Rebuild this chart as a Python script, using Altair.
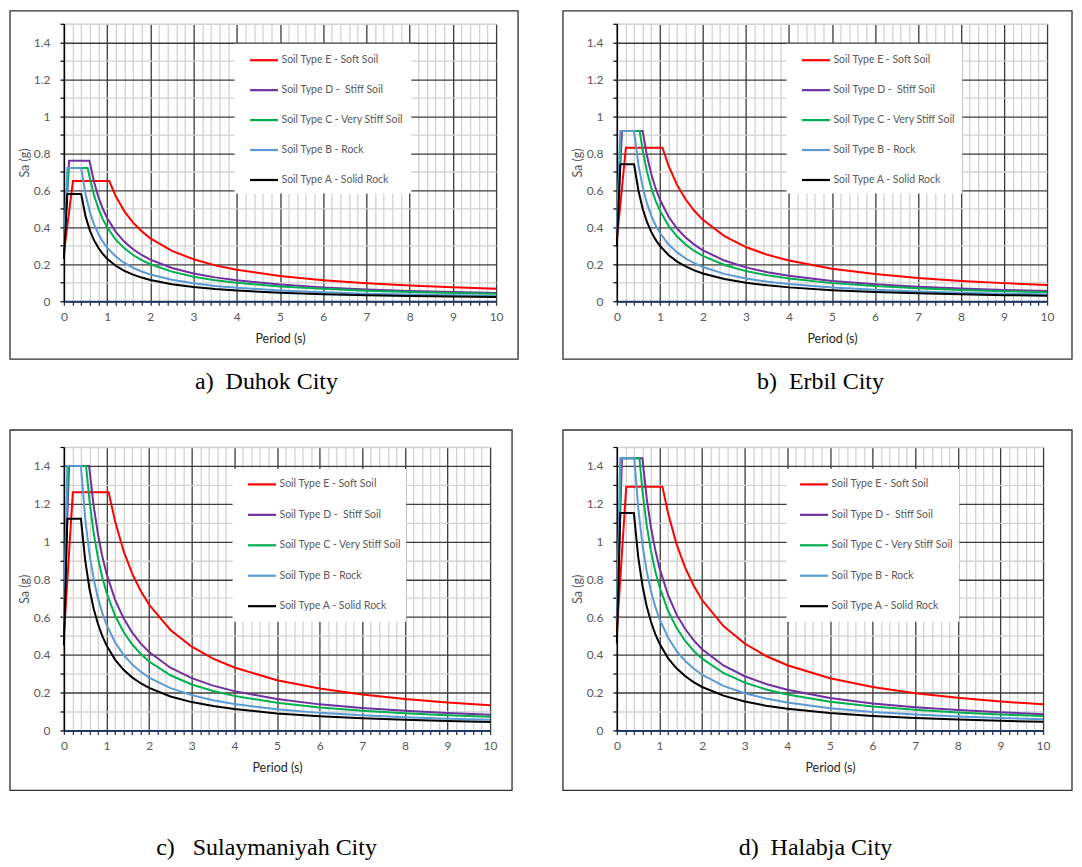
import altair as alt
import pandas as pd

SERIES = [
    "Soil Type E - Soft Soil",
    "Soil Type D -\u00a0 Stiff Soil",
    "Soil Type C - Very Stiff Soil",
    "Soil Type B - Rock",
    "Soil Type A - Solid Rock",
]
COLORS = ["#FF0000", "#7030A0", "#00B050", "#5B9BD5", "#000000"]
CITIES = ["Duhok", "Erbil", "Sulaymaniyah", "Halabja"]
CAPTIONS = [
    "a)\u00a0\u00a0Duhok City",
    "b)\u00a0\u00a0Erbil City",
    "c)\u00a0\u00a0\u00a0Sulaymaniyah City",
    "d)\u00a0\u00a0Halabja City",
]

# periods (s) of the descending branch, shared by all curves
TAIL_T = [0.5, 0.6, 0.7, 0.8, 0.9, 1.0, 1.2, 1.4, 1.6, 1.8, 2.0,
          2.5, 3.0, 3.5, 4.0, 5.0, 6.0, 7.0, 8.0, 9.0, 10.0]

# corner points (T = 0, T0, Ts) of each curve, order E, D, C, B, A
DUHOK_KNEE_T = [[0, 0.21, 1.05], [0, 0.12, 0.59], [0, 0.11, 0.55], [0, 0.08, 0.40], [0, 0.08, 0.40]]
DUHOK_KNEE_SA = [[0.26, 0.65, 0.65], [0.30, 0.76, 0.76], [0.29, 0.72, 0.72], [0.29, 0.72, 0.72], [0.23, 0.58, 0.58]]
DUHOK_TAIL = [
    [None, None, None, None, None, None, 0.567, 0.486, 0.425, 0.378, 0.340, 0.272, 0.227, 0.194, 0.170, 0.136, 0.113, 0.097, 0.085, 0.076, 0.068],
    [None, 0.750, 0.643, 0.563, 0.500, 0.450, 0.375, 0.321, 0.281, 0.250, 0.225, 0.180, 0.150, 0.129, 0.113, 0.090, 0.075, 0.064, 0.056, 0.050, 0.045],
    [None, 0.667, 0.571, 0.500, 0.444, 0.400, 0.333, 0.286, 0.250, 0.222, 0.200, 0.160, 0.133, 0.114, 0.100, 0.080, 0.067, 0.057, 0.050, 0.044, 0.040],
    [0.580, 0.483, 0.414, 0.363, 0.322, 0.290, 0.242, 0.207, 0.181, 0.161, 0.145, 0.116, 0.097, 0.083, 0.073, 0.058, 0.048, 0.041, 0.036, 0.032, 0.029],
    [0.460, 0.383, 0.329, 0.288, 0.256, 0.230, 0.192, 0.164, 0.144, 0.128, 0.115, 0.092, 0.077, 0.066, 0.058, 0.046, 0.038, 0.033, 0.029, 0.026, 0.023],
]

ERBIL_KNEE_T = [[0, 0.21, 1.06], [0, 0.12, 0.60], [0, 0.10, 0.53], [0, 0.08, 0.40], [0, 0.08, 0.40]]
ERBIL_KNEE_SA = [[0.33, 0.83, 0.83], [0.37, 0.92, 0.92], [0.37, 0.92, 0.92], [0.37, 0.92, 0.92], [0.30, 0.74, 0.74]]
ERBIL_TAIL = [
    [None, None, None, None, None, None, 0.733, 0.629, 0.550, 0.489, 0.440, 0.352, 0.293, 0.251, 0.220, 0.176, 0.147, 0.126, 0.110, 0.098, 0.088],
    [None, None, 0.786, 0.688, 0.611, 0.550, 0.458, 0.393, 0.344, 0.306, 0.275, 0.220, 0.183, 0.157, 0.138, 0.110, 0.092, 0.079, 0.069, 0.061, 0.055],
    [None, 0.817, 0.700, 0.613, 0.544, 0.490, 0.408, 0.350, 0.306, 0.272, 0.245, 0.196, 0.163, 0.140, 0.123, 0.098, 0.082, 0.070, 0.061, 0.054, 0.049],
    [0.740, 0.617, 0.529, 0.463, 0.411, 0.370, 0.308, 0.264, 0.231, 0.206, 0.185, 0.148, 0.123, 0.106, 0.093, 0.074, 0.062, 0.053, 0.046, 0.041, 0.037],
    [0.600, 0.500, 0.429, 0.375, 0.333, 0.300, 0.250, 0.214, 0.188, 0.167, 0.150, 0.120, 0.100, 0.086, 0.075, 0.060, 0.050, 0.043, 0.038, 0.033, 0.030],
]

SULAY_KNEE_T = [[0, 0.21, 1.05], [0, 0.12, 0.59], [0, 0.10, 0.52], [0, 0.08, 0.40], [0, 0.08, 0.40]]
SULAY_KNEE_SA = [[0.50, 1.26, 1.26], [0.56, 1.40, 1.40], [0.56, 1.40, 1.40], [0.56, 1.40, 1.40], [0.45, 1.12, 1.12]]
SULAY_TAIL = [
    [None, None, None, None, None, None, 1.108, 0.950, 0.831, 0.739, 0.665, 0.532, 0.443, 0.380, 0.333, 0.266, 0.222, 0.190, 0.166, 0.148, 0.133],
    [None, 1.383, 1.186, 1.038, 0.922, 0.830, 0.692, 0.593, 0.519, 0.461, 0.415, 0.332, 0.277, 0.237, 0.208, 0.166, 0.138, 0.119, 0.104, 0.092, 0.083],
    [None, 1.217, 1.043, 0.913, 0.811, 0.730, 0.608, 0.521, 0.456, 0.406, 0.365, 0.292, 0.243, 0.209, 0.183, 0.146, 0.122, 0.104, 0.091, 0.081, 0.073],
    [1.120, 0.933, 0.800, 0.700, 0.622, 0.560, 0.467, 0.400, 0.350, 0.311, 0.280, 0.224, 0.187, 0.160, 0.140, 0.112, 0.093, 0.080, 0.070, 0.062, 0.056],
    [0.900, 0.750, 0.643, 0.563, 0.500, 0.450, 0.375, 0.321, 0.281, 0.250, 0.225, 0.180, 0.150, 0.129, 0.113, 0.090, 0.075, 0.064, 0.056, 0.050, 0.045],
]

HALAB_KNEE_T = [[0, 0.22, 1.07], [0, 0.12, 0.60], [0, 0.10, 0.53], [0, 0.08, 0.41], [0, 0.08, 0.40]]
HALAB_KNEE_SA = [[0.52, 1.29, 1.29], [0.58, 1.44, 1.44], [0.58, 1.44, 1.44], [0.58, 1.44, 1.44], [0.46, 1.15, 1.15]]
HALAB_TAIL = [
    [None, None, None, None, None, None, 1.150, 0.986, 0.863, 0.767, 0.690, 0.552, 0.460, 0.394, 0.345, 0.276, 0.230, 0.197, 0.173, 0.153, 0.138],
    [None, None, 1.229, 1.075, 0.956, 0.860, 0.717, 0.614, 0.538, 0.478, 0.430, 0.344, 0.287, 0.246, 0.215, 0.172, 0.143, 0.123, 0.108, 0.096, 0.086],
    [None, 1.267, 1.086, 0.950, 0.844, 0.760, 0.633, 0.543, 0.475, 0.422, 0.380, 0.304, 0.253, 0.217, 0.190, 0.152, 0.127, 0.109, 0.095, 0.084, 0.076],
    [1.180, 0.983, 0.843, 0.738, 0.656, 0.590, 0.492, 0.421, 0.369, 0.328, 0.295, 0.236, 0.197, 0.169, 0.148, 0.118, 0.098, 0.084, 0.074, 0.066, 0.059],
    [0.920, 0.767, 0.657, 0.575, 0.511, 0.460, 0.383, 0.329, 0.288, 0.256, 0.230, 0.184, 0.153, 0.131, 0.115, 0.092, 0.077, 0.066, 0.058, 0.051, 0.046],
]

CITY_DATA = [
    (DUHOK_KNEE_T, DUHOK_KNEE_SA, DUHOK_TAIL),
    (ERBIL_KNEE_T, ERBIL_KNEE_SA, ERBIL_TAIL),
    (SULAY_KNEE_T, SULAY_KNEE_SA, SULAY_TAIL),
    (HALAB_KNEE_T, HALAB_KNEE_SA, HALAB_TAIL),
]

rows = []
for city, (kt, ks, tails) in zip(CITIES, CITY_DATA):
    for i, s in enumerate(SERIES):
        for t, v in zip(kt[i], ks[i]):
            rows.append({"city": city, "series": s, "T": t, "Sa": v})
        for t, v in zip(TAIL_T, tails[i]):
            if v is not None:
                rows.append({"city": city, "series": s, "T": t, "Sa": v})
df = pd.DataFrame(rows)

XTICKS = [round(i * 0.2, 1) for i in range(51)]
YTICKS = [round(i * 0.1, 1) for i in range(16)]

FONT = "Lato"
MAJOR = "#3c3c3c"
MINOR = "#d2d2d2"

x_axis = alt.Axis(
    values=XTICKS,
    labelExpr="datum.value % 1 === 0 ? format(datum.value, 'd') : ''",
    labelOverlap=False, labelBound=False, labelFlush=False,
    labelFont=FONT, labelFontSize=12, labelColor="#595959", labelPadding=6,
    grid=True,
    gridColor={"condition": {"test": "datum.value % 1 === 0", "value": MAJOR}, "value": MINOR},
    gridWidth=1.3,
    domainColor="#1F3864", domainWidth=2,
    tickColor="#1F3864", tickWidth=1.3, tickSize=4,
    title="Period (s)", titleFont=FONT, titleFontSize=12.5, titleFontWeight="normal",
    titleColor="#262626", titlePadding=10,
)
y_axis = alt.Axis(
    values=YTICKS,
    labelExpr="round(datum.value * 10) % 2 === 0 ? format(datum.value, '.1~f') : ''",
    labelOverlap=False, labelBound=False, labelFlush=False,
    labelFont=FONT, labelFontSize=12, labelColor="#595959", labelPadding=10,
    grid=True,
    gridColor={"condition": {"test": "round(datum.value * 10) % 2 === 0", "value": MAJOR}, "value": MINOR},
    gridWidth=1.3,
    domainColor="#000000", domainWidth=1.5,
    tickColor="#000000", tickWidth=1.2, tickSize=4,
    title="Sa (g)", titleFont=FONT, titleFontSize=12.5, titleFontWeight="normal",
    titleColor="#595959", titlePadding=2,
)

PANELS = [
    # width, height, box (x0, x1, y0, y1), legend box, legend entry x/y, row padding, caption x/y
    dict(w=433, h=278, box=(-54, 455, -13, 336), leg=(171, 348, 20, 170), lx=185, ly=21, rp=9, cx=203, cy=359),
    dict(w=431, h=278, box=(-54, 456, -13, 336), leg=(170, 346, 20, 170), lx=184, ly=21, rp=9, cx=204, cy=359),
    dict(w=427, h=284, box=(-54, 449, -17, 344), leg=(169, 343, 22, 175), lx=183, ly=22, rp=9.5, cx=203, cy=402),
    dict(w=427, h=284, box=(-54, 456, -17, 344), leg=(170, 343, 22, 175), lx=182, ly=22, rp=9.5, cx=199, cy=402),
]

one = pd.DataFrame({"k": [0]})


def panel(idx):
    p = PANELS[idx]
    city = CITIES[idx]
    b = p["box"]
    box = alt.Chart(one).mark_rect(fill="white", fillOpacity=0, stroke="#303030", strokeWidth=1.3).encode(
        x=alt.value(b[0]), x2=alt.value(b[1]), y=alt.value(b[2]), y2=alt.value(b[3])
    )
    lg = p["leg"]
    legbg = alt.Chart(one).mark_rect(fill="white").encode(
        x=alt.value(lg[0]), x2=alt.value(lg[1]), y=alt.value(lg[2]), y2=alt.value(lg[3])
    )
    lines = alt.Chart(df[df.city == city]).mark_line(strokeWidth=2).encode(
        x=alt.X("T:Q", scale=alt.Scale(domain=[0, 10], nice=False, zero=False), axis=x_axis),
        y=alt.Y("Sa:Q", scale=alt.Scale(domain=[0, 1.5], nice=False), axis=y_axis),
        color=alt.Color(
            "series:N",
            scale=alt.Scale(domain=SERIES, range=COLORS),
            legend=alt.Legend(
                orient="none", legendX=p["lx"], legendY=p["ly"], title=None,
                symbolType="stroke", symbolSize=784, symbolStrokeWidth=2.2,
                labelFont=FONT, labelFontSize=10.5, labelColor="#595959",
                rowPadding=p["rp"], labelOffset=2, padding=0,
            ),
        ),
        order=alt.value(0),
    )
    cap = alt.Chart(pd.DataFrame({"caption": [CAPTIONS[idx]]})).mark_text(
        font="Liberation Serif", fontSize=24, align="center", baseline="middle", color="#000000"
    ).encode(text="caption:N", x=alt.value(p["cx"]), y=alt.value(p["cy"]))
    return alt.layer(box, legbg, lines, cap).properties(width=p["w"], height=p["h"])


chart = alt.concat(
    panel(0), panel(1), panel(2), panel(3), columns=2
).properties(
    spacing={"row": 146, "column": 121}, bounds="flush", align="each", padding=0
).resolve_scale(color="independent").resolve_legend(color="independent").configure_view(
    stroke="#000000", strokeWidth=2
).configure(background="white")

chart.save("out.html", embed_options={"renderer": "svg", "actions": False})
